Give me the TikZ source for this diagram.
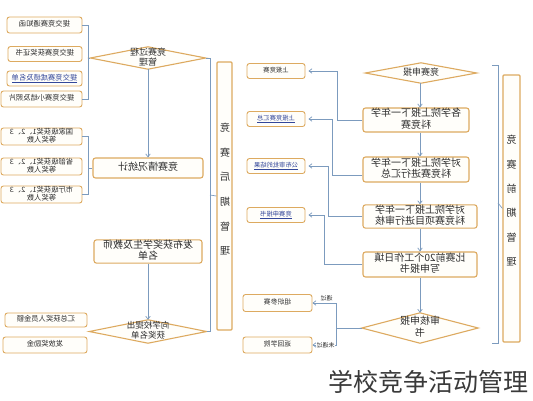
\documentclass[tikz,border=0pt]{standalone}
\usepackage{fontspec}
\newfontfamily\cjk{Noto Sans CJK SC}
\usetikzlibrary{arrows.meta,backgrounds,calc}
\definecolor{bord}{HTML}{DDAA60}
\definecolor{boxf}{HTML}{FFFEFA}
\definecolor{lnc}{HTML}{7C9BBE}
\definecolor{txt}{HTML}{2E2E2E}
\definecolor{lnk}{HTML}{33479A}
\definecolor{capc}{HTML}{3A3A3A}
\newcommand{\mt}[1]{\reflectbox{\begin{tabular}{@{}c@{}}#1\end{tabular}}}
\newcommand{\lk}[1]{\textcolor{lnk}{\underline{#1}}}
\renewcommand{\arraystretch}{0.92}
\begin{document}
\begin{tikzpicture}[x=1pt,y=-1pt,
  every node/.style={text=txt, inner sep=0pt},
  box/.style={draw=bord, line width=1.1pt, rounded corners=2.5pt, fill=boxf, align=center, font=\cjk\fontsize{10}{11.5}\selectfont},
  sbox/.style={box, line width=0.9pt, font=\cjk\fontsize{7.3}{8.5}\selectfont},
  mbox/.style={box, line width=0.9pt, font=\cjk\fontsize{6.3}{7.5}\selectfont},
  tbox/.style={draw=bord, line width=1.1pt, fill=boxf, rounded corners=1pt},
  dia/.style={rectangle, align=center, font=\cjk\fontsize{9}{10.5}\selectfont},
  diad/.style={draw=bord, line width=1.1pt, fill=boxf},
  ln/.style={draw=lnc, line width=0.7pt},
  arr/.style={ln, -{Straight Barb[length=3pt,width=4.5pt]}},
  lab/.style={font=\cjk\fontsize{6}{7}\selectfont},
  vch/.style={font=\cjk\fontsize{10}{10}\selectfont}
]
\begin{pgfonlayer}{background}
\fill[white] (0,0) rectangle (533,400);
\end{pgfonlayer}
\useasboundingbox (0,0) rectangle (533,400);

% ---------- left column ----------
\node[sbox, minimum width=75, minimum height=16] (l1) at (44.5,25) {\mt{提交竞赛通知函}};
\node[sbox, minimum width=74, minimum height=15] (l2) at (45,54) {\mt{提交竞赛获奖证书}};
\node[sbox, minimum width=75, minimum height=15] (l3) at (44.5,78.5) {\mt{\lk{提交竞赛成绩及名单}}};
\node[sbox, minimum width=81, minimum height=16] (l4) at (41.5,99) {\mt{提交竞赛小结及照片}};
\node[dia, minimum width=115, minimum height=22] (d1) at (148,58) {\mt{竞赛过程\\管理}};
\draw[ln] (l1.east) -- (88,25) -- (88,99) -- (l4.east);
\draw[ln] (88,58) -- (d1.west);

\node[box, minimum width=110, minimum height=20] (stat) at (148,168) {\mt{竞赛情况统计}};
\node[sbox, minimum width=81, minimum height=17] (l5) at (41.5,136.5) {\mt{国家级获奖1、2、3\\等奖人数}};
\node[sbox, minimum width=81, minimum height=17] (l6) at (41.5,166.5) {\mt{省部级获奖1、2、3\\等奖人数}};
\node[sbox, minimum width=81, minimum height=16] (l7) at (41.5,194.5) {\mt{市厅级获奖1、2、3\\等奖人数}};
\draw[ln] (l5.east) -- (88,136.5) -- (88,194.5) -- (l7.east);
\draw[ln] (88,168) -- (stat.west);
\draw[arr] (d1.south) -- (stat.north);

\node[box, minimum width=108, minimum height=23] (pub) at (148,251.5) {\mt{发布获奖学生及教师\\名单}};
\node[dia, minimum width=117, minimum height=23, font=\cjk\fontsize{8.5}{9.5}\selectfont] (d2) at (148,331.5) {\mt{向学校提出\\获奖名单}};
\node[sbox, minimum width=82, minimum height=14] (l8) at (46,320) {\mt{汇总获奖人员金额}};
\node[sbox, minimum width=84, minimum height=16] (l9) at (45,345) {\mt{发放奖励金}};
\draw[arr] (pub.south) -- (d2.north);

\node[tbox, minimum width=15, minimum height=268] (tl) at (224.5,196) {};
\foreach \c [count=\i] in {竞,赛,后,期,管,理}
  \node[vch] (tl\i) at (225,{128+24.6*(\i-1)}) {\reflectbox{\c}};
\draw[ln] (d1.east) -- (210,58) -- (210,331.5) -- (d2.east);
\draw[ln] (210,195) -- (tl.west);

% ---------- right column ----------
\node[dia, minimum width=111, minimum height=20] (dA) at (421,73) {\mt{竞赛申报}};
\node[box, minimum width=106, minimum height=24] (r1) at (416,120) {\mt{各学院上报下一年学\\科竞赛}};
\node[box, minimum width=106, minimum height=25] (r2) at (416,169.5) {\mt{对学院上报下一年学\\科竞赛进行汇总}};
\node[box, minimum width=114, minimum height=23] (r3) at (420,216.5) {\mt{对学院上报下一年学\\科竞赛项目进行审核}};
\node[box, minimum width=114, minimum height=25] (r4) at (420,264.5) {\mt{比赛前20个工作日填\\写申报书}};
\node[dia, minimum width=116, minimum height=30, font=\cjk\fontsize{10}{11.5}\selectfont] (dB) at (420,328) {\mt{审核申报\\书}};
\coordinate (ax) at (420,0);
\draw[arr] (dA.south -| ax) -- (r1.north -| ax);
\draw[arr] (r1.south -| ax) -- (r2.north -| ax);
\draw[arr] (r2.south -| ax) -- (r3.north -| ax);
\draw[arr] (r3.south -| ax) -- (r4.north -| ax);
\draw[arr] (r4.south -| ax) -- (dB.north -| ax);

\node[tbox, minimum width=17, minimum height=267] (tr) at (511.5,208.5) {};
\foreach \c [count=\i] in {竞,赛,前,期,管,理}
  \node[vch] (tr\i) at (511.5,{140+24.4*(\i-1)}) {\reflectbox{\c}};
\draw[ln] (492,65) -- (498,65) -- (498,343) -- (492,343);
\draw[ln] (498,203) -- (tr.west);

% ---------- middle small boxes ----------
\node[mbox, minimum width=58, minimum height=15] (s1) at (276,71) {\mt{上报竞赛}};
\node[mbox, minimum width=58, minimum height=15] (s2) at (276,119) {\mt{\lk{上报竞赛汇总}}};
\node[mbox, minimum width=58, minimum height=15] (s3) at (276,166) {\mt{\lk{公布审批的结果}}};
\node[mbox, minimum width=58, minimum height=15] (s4) at (276,215) {\mt{\lk{竞赛申报书}}};
\draw[arr, shorten >=3pt] (r1.west) -- ++(-25,0) |- (s1.east);
\draw[arr, shorten >=3pt] ($(r2.west)+(0,6)$) -- ++(-30,0) |- (s2.east);
\draw[arr, shorten >=3pt] (r3.west) -- ++(-34,0) |- (s3.east);
\draw[arr, shorten >=3pt] (r4.west) -- ++(-38,0) |- (s4.east);

% ---------- bottom result boxes ----------
\node[mbox, minimum width=69, minimum height=17, font=\cjk\fontsize{6.8}{8}\selectfont] (b1) at (277.5,303) {\mt{组织参赛}};
\node[mbox, minimum width=69, minimum height=16, font=\cjk\fontsize{6.8}{8}\selectfont] (b2) at (277.5,345) {\mt{返回学院}};
\coordinate (bj) at (336,328);
\draw[ln] (dB.west) -- (bj);
\draw[arr] (bj) |- (b1.east) node[lab, pos=0.7, above=1.5pt] (lp) {\reflectbox{通过}};
\draw[arr] (bj) |- (b2.east) node[lab, pos=0.72, fill=white, inner sep=0.5pt] (lf) {\reflectbox{未通过}};

% ---------- diamonds ----------
\begin{pgfonlayer}{background}
\foreach \d in {d1,d2,dA,dB}
  \filldraw[diad] (\d.west) -- (\d.north) -- (\d.east) -- (\d.south) -- cycle;
\end{pgfonlayer}

% ---------- caption ----------
\node[font=\cjk\fontsize{25}{25}\selectfont, text=capc] (cap) at (428,382) {学校竞争活动管理};
\end{tikzpicture}
\end{document}
